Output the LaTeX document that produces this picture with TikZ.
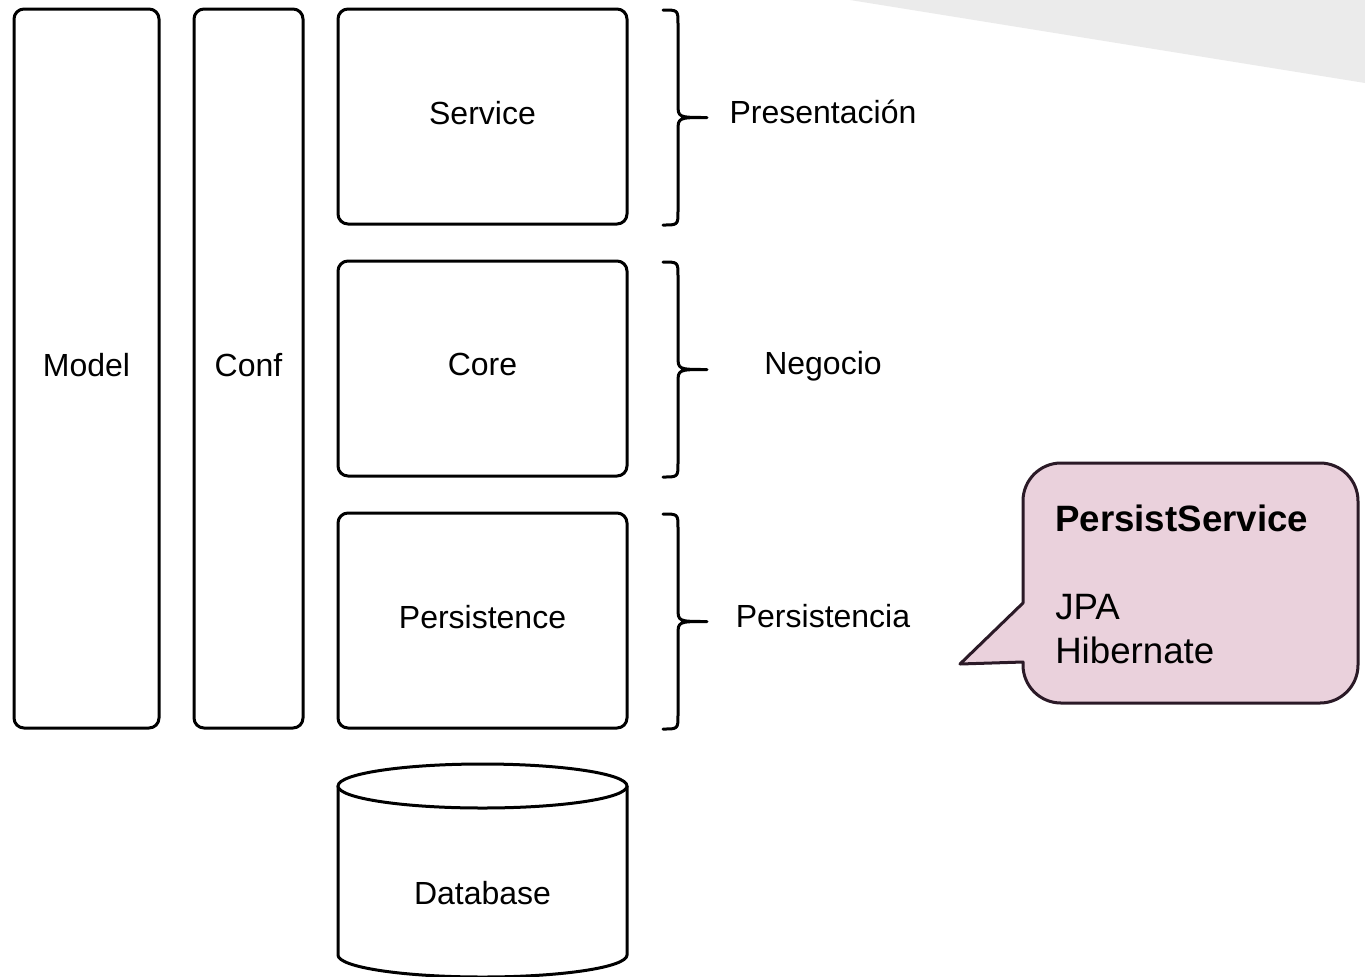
\documentclass[tikz,border=0pt]{standalone}
\usepackage{fontspec}
\setmainfont{Liberation Sans}
\definecolor{bgtri}{HTML}{EBEBEB}
\definecolor{calloutfill}{HTML}{EAD1DC}
\definecolor{calloutdraw}{HTML}{2B1A27}
\tikzset{
  layerbox/.style={draw=black, line width=2.25pt, rounded corners=7.5pt, fill=white,
    font=\fontsize{24}{28}\selectfont, inner sep=0pt, outer sep=0pt, text depth=6pt},
  bracepath/.style={draw=black, line width=2.25pt, line cap=round, line join=round},
  layerlabel/.style={font=\fontsize{24}{28}\selectfont, inner sep=0pt},
  calloutshape/.style={draw=calloutdraw, fill=calloutfill, line width=2.25pt, line join=round},
}
\begin{document}
\begin{tikzpicture}[x=0.75pt, y=-0.75pt]
\useasboundingbox (0,0) rectangle (1365,976);
\clip (0,0) rectangle (1365,976);
% background grey wedge
\fill[bgtri] (850,0) -- (1365,0) -- (1365,83) -- cycle;

% columns
\node[layerbox, minimum width=108.75pt, minimum height=539.25pt] (model) at (86.5,368.5) {Model};
\node[layerbox, minimum width=81.75pt, minimum height=539.25pt] (conf) at (248.5,368.5) {Conf};
\node[layerbox, minimum width=216.75pt, minimum height=161.25pt] (service) at (482.5,116.5) {Service};
\node[layerbox, minimum width=216.75pt, minimum height=161.25pt] (core) at (482.5,368.5) {Core};
\node[layerbox, minimum width=216.75pt, minimum height=161.25pt] (persist) at (482.5,620.5) {Persistence};

% database cylinder
\draw[line width=2.25pt, fill=white] (338,786) -- (338,955) arc[start angle=180, end angle=360, x radius=108.375pt, y radius=16.5pt] -- (627,786);
\draw[line width=2.25pt, fill=white] (482.5,786) ellipse[x radius=108.375pt, y radius=16.5pt];
\node[layerlabel] (db) at (482.5,893) {Database};

% braces
\coordinate (b1t) at (663,10);  \coordinate (b1b) at (663,225); \coordinate (b1m) at (707,117.5);
\coordinate (b2t) at (663,262); \coordinate (b2b) at (663,477); \coordinate (b2m) at (707,369.5);
\coordinate (b3t) at (663,514); \coordinate (b3b) at (663,729); \coordinate (b3m) at (707,621.5);
\draw[bracepath] (b1t) .. controls (678,10) .. (678,24) -- (678,104) .. controls (678,117.5) .. (b1m)
  .. controls (678,117.5) .. (678,131) -- (678,211) .. controls (678,225) .. (b1b);
\draw[bracepath] (b2t) .. controls (678,262) .. (678,276) -- (678,356) .. controls (678,369.5) .. (b2m)
  .. controls (678,369.5) .. (678,383) -- (678,463) .. controls (678,477) .. (b2b);
\draw[bracepath] (b3t) .. controls (678,514) .. (678,528) -- (678,608) .. controls (678,621.5) .. (b3m)
  .. controls (678,621.5) .. (678,635) -- (678,715) .. controls (678,729) .. (b3b);

\node[layerlabel] (presentacion) at (823,112) {Presentación};
\node[layerlabel] (negocio) at (823,366) {Negocio};
\node[layerlabel] (persistencia) at (823,616) {Persistencia};

% callout
\coordinate (ctip) at (960,664);
\draw[calloutshape] (1023,603) [rounded corners=28.5pt] -- (1023,463) -- (1358,463) -- (1358,703) -- (1023,703) [sharp corners] -- (1023,662) -- (ctip) -- cycle;
\node[anchor=base west, align=left, inner sep=0pt, font=\fontsize{27.5}{33}\selectfont] (callouttext) at (1055,663)
  {\textbf{PersistService}\\[33pt]JPA\\Hibernate};
\end{tikzpicture}
\end{document}
